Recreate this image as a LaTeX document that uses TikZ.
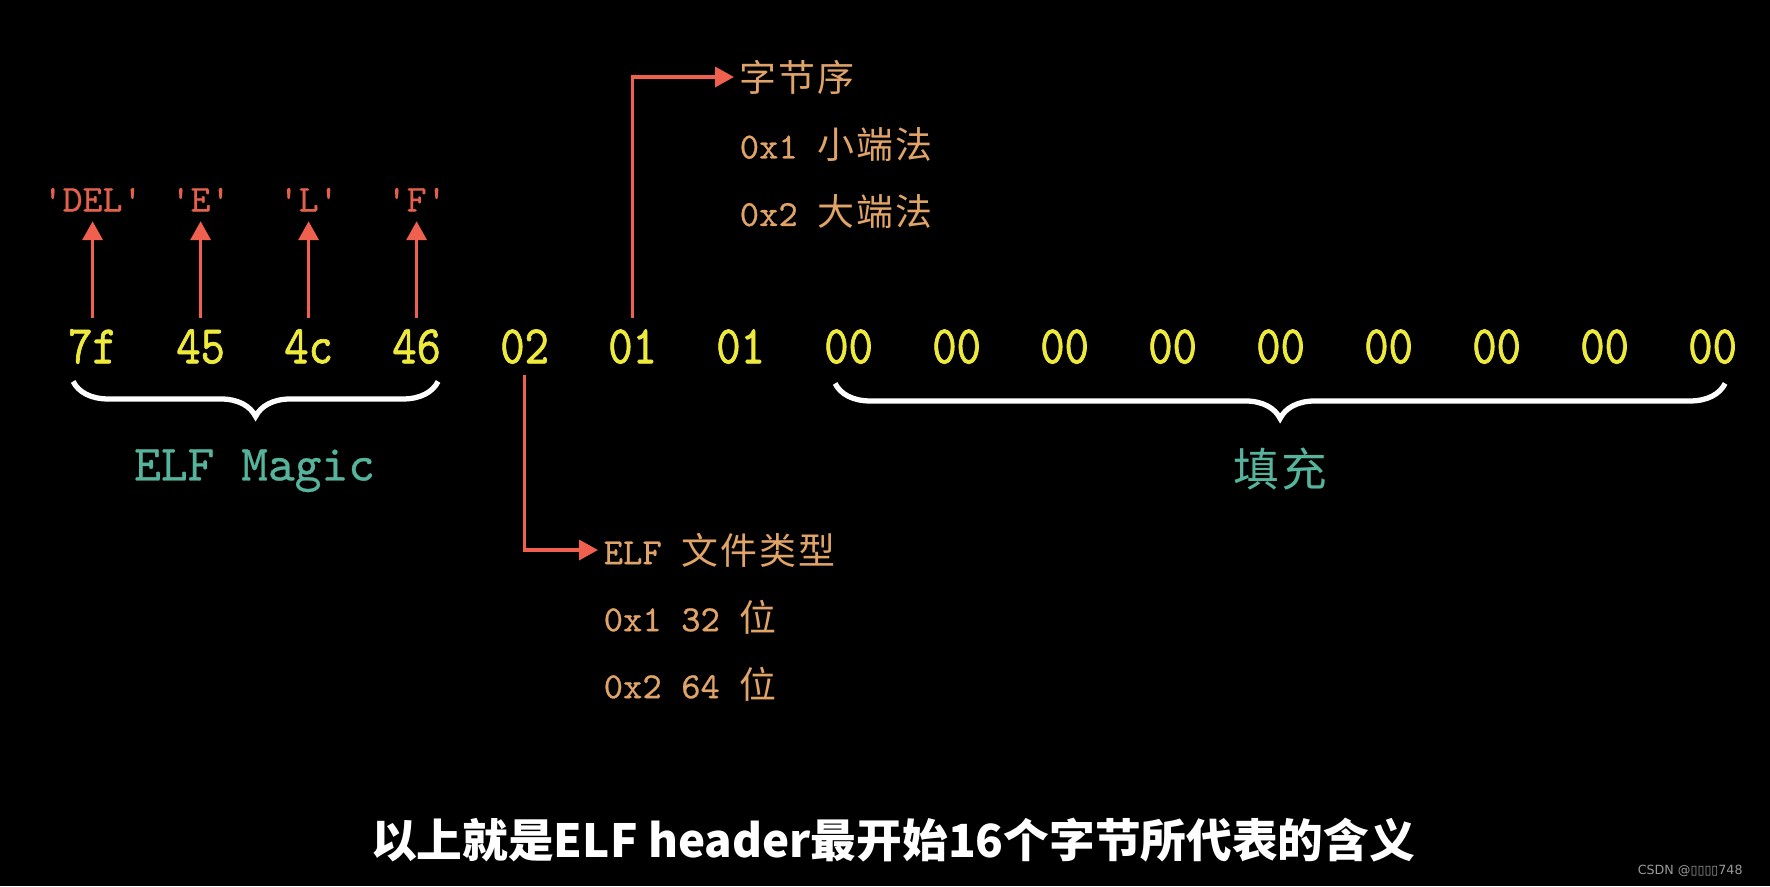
\documentclass[tikz,border=0pt]{standalone}
\usepackage{fontspec}
\usepackage{xcolor}
\usepackage{tikz}
\usetikzlibrary{positioning, calc, arrows.meta, decorations.pathreplacing}
\setmonofont[Extension=.otf, FakeBold=0.6]{lmmono10-regular}
\newfontfamily\cjk{Noto Sans CJK SC}
\newfontfamily\cjkwide[LetterSpace=6]{Noto Sans CJK SC}
\newfontfamily\bytefont[Extension=.otf, FakeStretch=0.85, FakeBold=1.2]{lmmono10-regular}
\newfontfamily\wmfont{DejaVu Sans}
\newcommand{\zh}[1]{{\cjkwide #1}}
\definecolor{hexy}{HTML}{EEEA3C}
\definecolor{ptrred}{HTML}{F0604E}
\definecolor{chrred}{HTML}{E2604C}
\definecolor{notecol}{HTML}{E0A468}
\definecolor{grpteal}{HTML}{56B39C}
\definecolor{wmgray}{HTML}{9A9A9A}

\begin{document}
\begin{tikzpicture}[
  byte/.style={font=\bytefont\fontsize{15.5}{18}\selectfont, text=hexy,
               inner xsep=0pt, inner ysep=0.115cm, text height=0.335cm, text depth=0pt},
  chrlbl/.style={font=\ttfamily\fontsize{10.8}{12}\selectfont, text=chrred,
                 inner sep=0.09cm, text height=0.25cm, text depth=0pt},
  note/.style={font=\ttfamily\fontsize{10.5}{12}\selectfont, text=notecol,
               inner sep=0.05cm, anchor=west},
  grplbl/.style={text=grpteal},
  ptr/.style={draw=ptrred, line width=1pt, -{Triangle[width=0.2cm, length=0.19cm]}},
  brc/.style={draw=white, line width=1.5pt, decorate,
              decoration={brace, mirror, amplitude=0.35cm}}
]

  \useasboundingbox (0,0) rectangle (17.70,-8.86);
  \fill[black] (0,0) rectangle (17.70,-8.86);

  \foreach \v [count=\i from 0] in {7f,45,4c,46,02,01,01,00,00,00,00,00,00,00,00,00}
    \node[byte] (b\i) at ({0.926+1.08*\i},-3.465) {\v};

  \foreach \t [count=\i from 0] in {DEL,E,L,F} {
    \node[chrlbl] (c\i) at ($(b\i)+(0,1.475)$) {'\t'};
    \draw[ptr] (b\i.north) -- (c\i.south);
  }

  \draw[brc] ([xshift=-0.195cm, yshift=-0.06cm]b0.south) -- ([xshift=0.215cm, yshift=-0.06cm]b3.south);
  \node[grplbl, font=\ttfamily\fontsize{14.5}{17}\selectfont, anchor=base] (magic)
    at ($(b0.south)!0.5!(b3.south)+(0,-1.05)$) {ELF Magic};

  \draw[brc] ([xshift=-0.135cm, yshift=-0.08cm]b7.south) -- ([xshift=0.125cm, yshift=-0.08cm]b15.south);
  \node[grplbl, font=\cjkwide\fontsize{13}{16}\selectfont] (pad)
    at ($(b7.south)!0.5!(b15.south)+(0,-0.94)$) {填充};

  \node[note] (endian) at (7.34,-0.77) {\zh{字节序}};
  \node[note] (little) at ([yshift=-0.675cm]endian.west) {0x1 \zh{小端法}};
  \node[note] (big) at ([yshift=-0.675cm]little.west) {0x2 \zh{大端法}};
  \draw[ptr] (b5.north) |- (endian.west);

  \node[note] (etype) at (5.98,-5.50) {ELF \zh{文件类型}};
  \node[note] (w32) at ([yshift=-0.67cm]etype.west) {0x1 32 \zh{位}};
  \node[note] (w64) at ([yshift=-0.67cm]w32.west) {0x2 64 \zh{位}};
  \draw[ptr] (b4.south) |- (etype.west);

  \node[font=\cjk\bfseries\fontsize{13}{16}\selectfont, text=white] (caption)
    at (8.93,-8.40) {以上就是ELF header最开始16个字节所代表的含义};
  \node[font=\wmfont\fontsize{3.6}{4.5}\selectfont, text=wmgray, anchor=east] (wm)
    at (17.55,-8.71) {CSDN @▯▯▯▯748};

\end{tikzpicture}
\end{document}
